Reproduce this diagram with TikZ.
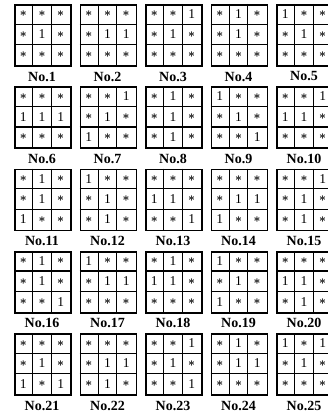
\documentclass[tikz,border=0pt]{standalone}
\usepackage{fontspec}
\setmainfont{Liberation Serif}
\newcommand\st{{\fontsize{13}{13}\selectfont\boldmath$\ast$}}
\begin{document}
\begin{tikzpicture}[x=1pt,y=-1pt,
  cellv/.style={inner sep=0pt, font=\fontsize{13.5}{13.5}\selectfont},
  frame/.style={draw, line width=1.9pt, minimum width=56pt, minimum height=61pt, inner sep=0pt, anchor=north west},
  gridline/.style={line width=1.2pt},
  lbl/.style={font=\fontsize{14}{14}\selectfont\bfseries, inner sep=0pt}]
\useasboundingbox (0,0) rectangle (328,412);
\clip (0,0) rectangle (328,412);
\fill[white] (0,0) rectangle (328,412);
\foreach \vals [count=\g from 1] in {
 {\st,\st,\st,\st,1,\st,\st,\st,\st},
 {\st,\st,\st,\st,1,1,\st,\st,\st},
 {\st,\st,1,\st,1,\st,\st,\st,\st},
 {\st,1,\st,\st,1,\st,\st,\st,\st},
 {1,\st,\st,\st,1,\st,\st,\st,\st},
 {\st,\st,\st,1,1,1,\st,\st,\st},
 {\st,\st,1,\st,1,\st,1,\st,\st},
 {\st,1,\st,\st,1,\st,\st,1,\st},
 {1,\st,\st,\st,1,\st,\st,\st,1},
 {\st,\st,1,1,1,\st,\st,\st,\st},
 {\st,1,\st,\st,1,\st,1,\st,\st},
 {1,\st,\st,\st,1,\st,\st,1,\st},
 {\st,\st,\st,1,1,\st,\st,\st,1},
 {\st,\st,\st,\st,1,1,1,\st,\st},
 {\st,\st,1,\st,1,\st,\st,1,\st},
 {\st,1,\st,\st,1,\st,\st,\st,1},
 {1,\st,\st,\st,1,1,\st,\st,\st},
 {\st,1,\st,1,1,\st,\st,\st,\st},
 {1,\st,\st,\st,1,\st,1,\st,\st},
 {\st,\st,\st,1,1,\st,\st,1,\st},
 {\st,\st,\st,\st,1,\st,1,\st,1},
 {\st,\st,\st,\st,1,1,\st,1,\st},
 {\st,\st,1,\st,1,\st,\st,\st,1},
 {\st,1,\st,\st,1,1,\st,\st,\st},
 {1,\st,1,\st,1,\st,\st,\st,\st}}{
  \pgfmathsetmacro\cx{14+65.5*mod(\g-1,5)}
  \pgfmathsetmacro\cy{4+82.25*int((\g-1)/5)}
  \begin{scope}[shift={(\cx,\cy)}]
    \node[frame] (f\g) at (0,0) {};
    \draw[gridline] (f\g.north west) ++(18.67,0) coordinate (a\g) -- ++(0,61);
    \draw[gridline] (f\g.north west) ++(37.33,0) coordinate (b\g) -- ++(0,61);
    \draw[gridline] (f\g.north west) ++(0,20.33) coordinate (c\g) -- ++(56,0);
    \draw[gridline] (f\g.north west) ++(0,40.67) coordinate (d\g) -- ++(56,0);
    \foreach \v [count=\k from 0] in \vals {
      \node[cellv] (v\g-\k) at ({(mod(\k,3)+0.5)*18.67},{(int(\k/3)+0.5)*20.33}) {\v};
    }
    \node[lbl] (l\g) at (28,72.5) {No.\g};
  \end{scope}
}
\end{tikzpicture}
\end{document}
